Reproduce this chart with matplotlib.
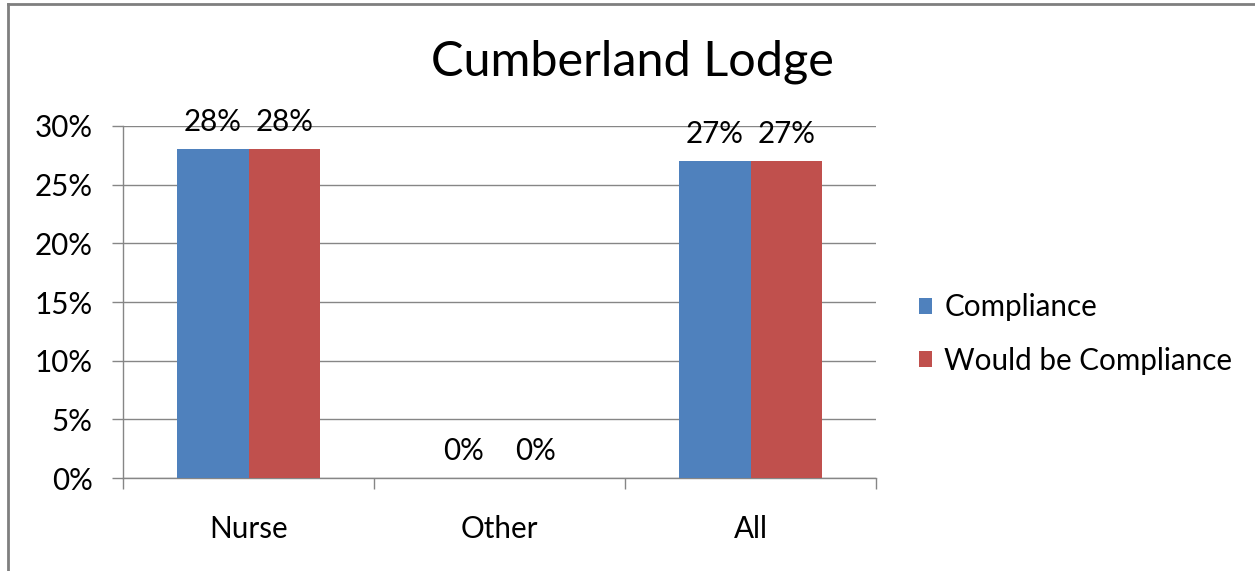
import matplotlib
matplotlib.use("Agg")
import matplotlib.pyplot as plt
from matplotlib.lines import Line2D
from matplotlib.patches import Patch
import numpy as np

# data
categories = ["Nurse", "Other", "All"]
compliance = [0.28, 0.0, 0.27]
would_be = [0.28, 0.0, 0.27]
series_names = ["Compliance", "Would be Compliance"]
yticks = [0.0, 0.05, 0.10, 0.15, 0.20, 0.25, 0.30]

BLUE = "#4F81BD"
RED = "#C0504D"
GRID = "#868686"
FONT = "Lato"
FS = 21.3

fig = plt.figure(figsize=(12.55, 5.71), dpi=100)
ax = fig.add_axes([123 / 1255, 93 / 571, 753 / 1255, 352 / 571])

x = np.arange(len(categories))
w = 0.286
ax.bar(x - w / 2, compliance, width=w, color=BLUE, zorder=3)
ax.bar(x + w / 2, would_be, width=w, color=RED, zorder=3)

for xi, (a, b) in enumerate(zip(compliance, would_be)):
    for off, v in ((-w / 2, a), (w / 2, b)):
        ax.annotate(f"{v:.0%}", (xi + off, v), xytext=(0, 9.5), textcoords="offset points",
                    ha="center", va="bottom", fontsize=FS, family=FONT, color="black")

ax.set_xlim(-0.5, 2.5)
ax.set_ylim(0, 0.30)
ax.set_yticks(yticks)
ax.set_yticklabels([f"{t:.0%}" for t in yticks], fontsize=FS, family=FONT)
ax.set_xticks(x)
ax.set_xticklabels(categories, fontsize=FS, family=FONT)
ax.set_xticks([-0.5, 0.5, 1.5, 2.5], minor=True)
ax.tick_params(axis="x", which="major", length=0, pad=26.5)
ax.tick_params(axis="x", which="minor", length=8, color=GRID, width=1)
ax.tick_params(axis="y", length=8, color=GRID, width=1, pad=14)

ax.grid(axis="y", color=GRID, linewidth=1, zorder=0)
for side in ("top", "right"):
    ax.spines[side].set_visible(False)
for side in ("left", "bottom"):
    ax.spines[side].set_color(GRID)
    ax.spines[side].set_linewidth(1)

fig.text(632 / 1255, 1 - 62 / 571, "Cumberland Lodge", ha="center", va="center",
         fontsize=35, family=FONT)

handles = [Patch(facecolor=BLUE), Patch(facecolor=RED)]
fig.legend(handles, series_names, loc="center left", bbox_to_anchor=(919 / 1255, 1 - 334 / 571),
           frameon=False, prop={"family": FONT, "size": FS}, handlelength=0.45, handleheight=0.45,
           handletextpad=0.4, labelspacing=0.87, borderaxespad=0, borderpad=0)

# chart border (only left and top visible in the crop)
fig.add_artist(Line2D([8 / 1255, 8 / 1255], [0, 1 - 4 / 571], transform=fig.transFigure,
                      color="#7f7f7f", linewidth=2))
fig.add_artist(Line2D([8 / 1255, 1], [1 - 4 / 571, 1 - 4 / 571], transform=fig.transFigure,
                      color="#7f7f7f", linewidth=2))

fig.savefig("out.png", dpi=100)
